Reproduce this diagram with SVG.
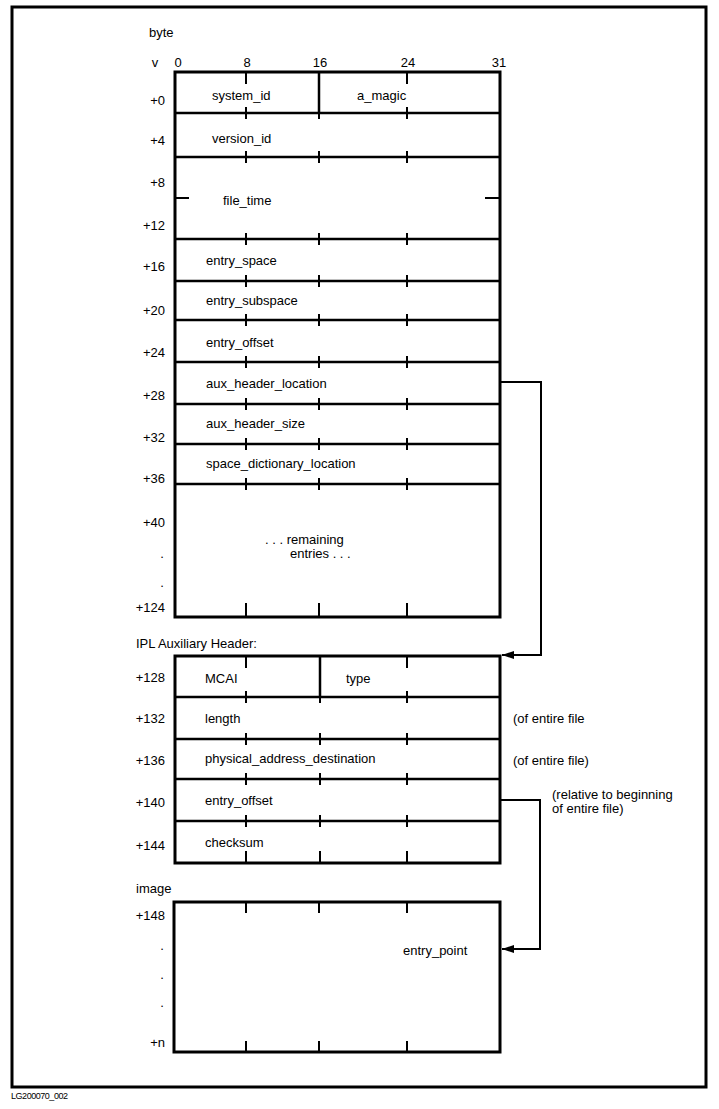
<svg xmlns="http://www.w3.org/2000/svg" width="719" height="1109" viewBox="0 0 719 1109">
<defs>
<style>
text{font-family:"Liberation Sans",Arial,sans-serif;font-size:13px;fill:#000}
.lbl{text-anchor:end}
.mid{text-anchor:middle}
.box{fill:none;stroke:#000;stroke-width:3}
.sep{stroke:#000;stroke-width:2.5;fill:none}
.tick{stroke:#000;stroke-width:2;fill:none}
.conn{stroke:#000;stroke-width:2;fill:none}
</style>
<marker id="ah" markerUnits="userSpaceOnUse" markerWidth="12" markerHeight="8" viewBox="0 0 12 8" refX="12" refY="4" orient="auto">
<path d="M0,0 L12,4 L0,8 Z" fill="#000"/>
</marker>
</defs>
<rect width="719" height="1109" fill="#fff"/>
<rect x="12" y="7" width="694" height="1080" fill="none" stroke="#000" stroke-width="3"/>
<text x="11" y="1099" style="font-size:9px" textLength="57">LG200070_002</text>

<g id="column-scale">
<text x="149" y="37">byte</text>
<text x="155" y="67" class="mid">v</text>
<text x="178" y="67" class="mid">0</text>
<text x="247" y="67" class="mid">8</text>
<text x="320" y="67" class="mid">16</text>
<text x="408" y="67" class="mid">24</text>
<text x="499" y="67" class="mid">31</text>
</g>

<g id="som-header">
<rect x="175" y="72" width="325" height="545" class="box"/>
<path class="sep" d="M175,113H500M175,157H500M175,239H500M175,281H500M175,320H500M175,362H500M175,404H500M175,444H500M175,484H500"/>
<path class="sep" d="M319,72V113"/>
<path class="tick" d="M246,72V84M407,72V84
M246,107V119M319,113V119M407,107V119
M246,151V163M319,151V163M407,151V163
M246,233V245M319,233V245M407,233V245
M246,275V287M319,275V287M407,275V287
M246,314V326M319,314V326M407,314V326
M246,356V368M319,356V368M407,356V368
M246,398V410M319,398V410M407,398V410
M246,438V450M319,438V450M407,438V450
M246,478V490M319,478V490M407,478V490
M246,603V617M319,603V617M407,603V617
M175,198H189M485,198H500"/>
<g id="f-system_id"><text x="212" y="100">system_id</text></g>
<g id="f-a_magic"><text x="357" y="100">a_magic</text></g>
<g id="f-version_id"><text x="212" y="143">version_id</text></g>
<g id="f-file_time"><text x="223" y="205">file_time</text></g>
<g id="f-entry_space"><text x="206" y="265">entry_space</text></g>
<g id="f-entry_subspace"><text x="206" y="305">entry_subspace</text></g>
<g id="f-entry_offset"><text x="206" y="347">entry_offset</text></g>
<g id="f-aux_header_location"><text x="206" y="388">aux_header_location</text></g>
<g id="f-aux_header_size"><text x="206" y="428">aux_header_size</text></g>
<g id="f-space_dictionary_location"><text x="206" y="468">space_dictionary_location</text></g>
<g id="f-remaining"><text x="265" y="544">. . . remaining</text><text x="290" y="558">entries . . .</text></g>
<text x="165" y="105" class="lbl">+0</text>
<text x="165" y="145" class="lbl">+4</text>
<text x="165" y="187" class="lbl">+8</text>
<text x="165" y="230" class="lbl">+12</text>
<text x="165" y="271" class="lbl">+16</text>
<text x="165" y="315" class="lbl">+20</text>
<text x="165" y="357" class="lbl">+24</text>
<text x="165" y="400" class="lbl">+28</text>
<text x="165" y="442" class="lbl">+32</text>
<text x="165" y="483" class="lbl">+36</text>
<text x="165" y="527" class="lbl">+40</text>
<text x="162" y="558" class="mid">.</text>
<text x="162" y="587" class="mid">.</text>
<text x="165" y="612" class="lbl">+124</text>
</g>

<g id="ipl-aux-header">
<text x="136" y="648">IPL Auxiliary Header:</text>
<rect x="175" y="656" width="325" height="207" class="box"/>
<path class="sep" d="M175,697H500M175,739H500M175,779H500M175,821H500M320,656V697"/>
<path class="tick" d="M246,656V668M407,656V668
M246,691V703M320,697V703M407,691V703
M246,733V745M320,733V745M407,733V745
M246,773V785M320,773V785M407,773V785
M246,815V827M320,815V827M407,815V827
M246,851V863M320,851V863M407,851V863"/>
<g id="h-MCAI"><text x="205" y="683">MCAI</text></g>
<g id="h-type"><text x="346" y="683">type</text></g>
<g id="h-length"><text x="205" y="723">length</text></g>
<g id="h-physical_address_destination"><text x="205" y="763">physical_address_destination</text></g>
<g id="h-entry_offset"><text x="205" y="805">entry_offset</text></g>
<g id="h-checksum"><text x="205" y="847">checksum</text></g>
<text x="165" y="682" class="lbl">+128</text>
<text x="165" y="723" class="lbl">+132</text>
<text x="165" y="765" class="lbl">+136</text>
<text x="165" y="807" class="lbl">+140</text>
<text x="165" y="850" class="lbl">+144</text>
<text x="513" y="723">(of entire file</text>
<text x="513" y="765">(of entire file)</text>
<text x="552" y="799">(relative to beginning</text>
<text x="552" y="813">of entire file)</text>
</g>

<g id="image">
<text x="136" y="893">image</text>
<rect x="174" y="902" width="326" height="150" class="box"/>
<path class="tick" d="M246,902V913M319,902V913M407,902V913M246,1041V1052M319,1041V1052M407,1041V1052"/>
<text x="403" y="955">entry_point</text>
<text x="165" y="920" class="lbl">+148</text>
<text x="162" y="950" class="mid">.</text>
<text x="162" y="979" class="mid">.</text>
<text x="162" y="1007" class="mid">.</text>
<text x="165" y="1047" class="lbl">+n</text>
</g>

<g id="connectors">
<path class="conn" d="M501,382H541V655H502" marker-end="url(#ah)"/>
<path class="conn" d="M501,800H540V949H502" marker-end="url(#ah)"/>
</g>
</svg>
